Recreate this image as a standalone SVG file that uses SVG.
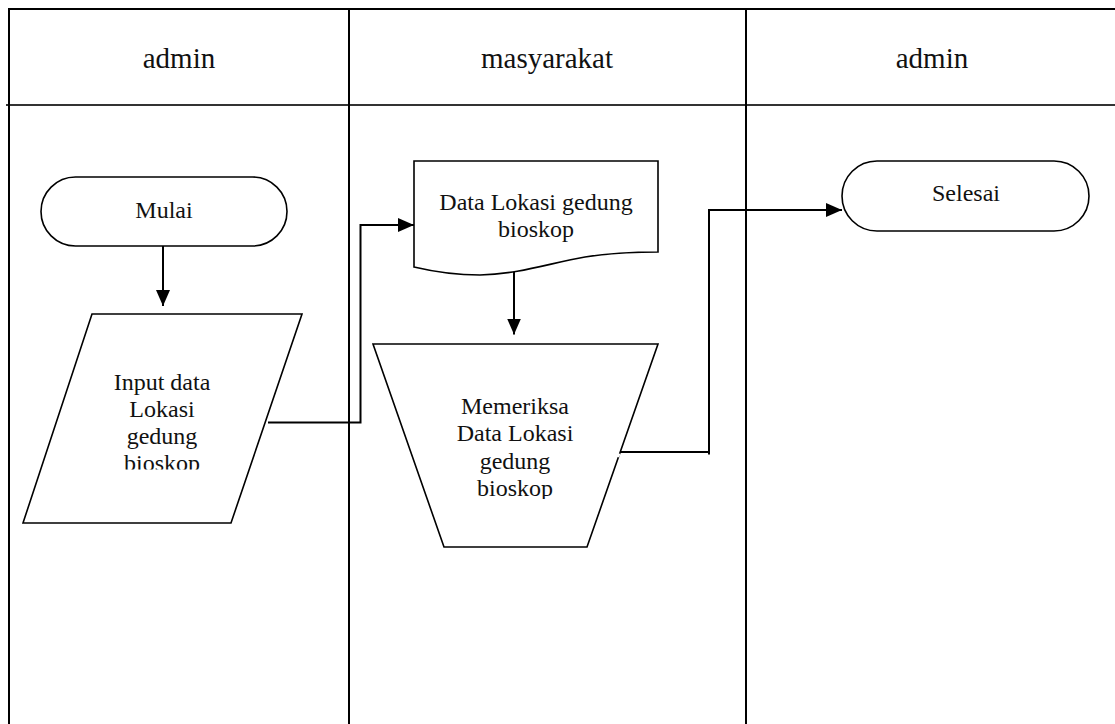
<svg xmlns="http://www.w3.org/2000/svg" width="1115" height="724" viewBox="0 0 1115 724">
  <style>
    .lane { stroke: #000; stroke-width: 2; fill: none; }
    .hdr { stroke: #333; stroke-width: 2; fill: none; }
    .shape { stroke: #000; stroke-width: 1.6; fill: #fff; }
    .conn { stroke: #000; stroke-width: 2; fill: none; }
    .title { font-family: "Liberation Serif", "Times New Roman", serif; font-size: 29px; fill: #111; text-anchor: middle; }
    .label { font-family: "Liberation Serif", "Times New Roman", serif; font-size: 24px; fill: #111; text-anchor: middle; }
  </style>
  <defs>
    <marker id="arrow" markerUnits="userSpaceOnUse" markerWidth="16" markerHeight="14" refX="16" refY="7" orient="auto">
      <path d="M0,0 L16,7 L0,14 Z" fill="#000"/>
    </marker>
    <clipPath id="clipInput"><rect x="20" y="330" width="290" height="139.5"/></clipPath>
    <clipPath id="clipCheck"><rect x="380" y="350" width="280" height="149"/></clipPath>
  </defs>

  <rect width="1115" height="724" fill="#fff"/>

  <!-- swimlane frame -->
  <g id="lanes">
    <line class="lane" x1="8" y1="9" x2="1115" y2="9"/>
    <line class="hdr" x1="6" y1="105" x2="1115" y2="105"/>
    <line class="lane" x1="9" y1="8" x2="9" y2="724"/>
    <line class="lane" x1="349" y1="8" x2="349" y2="724"/>
    <line class="lane" x1="746" y1="8" x2="746" y2="724"/>
    <text class="title" x="179" y="68">admin</text>
    <text class="title" x="547" y="68">masyarakat</text>
    <text class="title" x="932" y="68">admin</text>
  </g>

  <!-- connectors -->
  <g id="connectors">
    <line class="conn" x1="163" y1="246" x2="163" y2="306" marker-end="url(#arrow)"/>
    <path class="conn" d="M268,422.5 H360.5 V225 H414" marker-end="url(#arrow)"/>
    <line class="conn" x1="514" y1="272" x2="514" y2="334.5" marker-end="url(#arrow)"/>
    <path class="conn" d="M619,452 H709 M709,454.5 V210 H842" marker-end="url(#arrow)"/>
  </g>

  <g id="mulai">
    <rect class="shape" x="41" y="177" width="246" height="69" rx="34.5" ry="34.5"/>
    <text class="label" x="164" y="218">Mulai</text>
  </g>

  <g id="input-data">
    <polygon class="shape" points="92,314 302,314 231,523 23,523"/>
    <g clip-path="url(#clipInput)">
      <text class="label" x="162" y="390">Input data</text>
      <text class="label" x="162" y="417">Lokasi</text>
      <text class="label" x="162" y="444">gedung</text>
      <text class="label" x="162" y="471">bioskop</text>
    </g>
  </g>

  <g id="data-lokasi">
    <path class="shape" d="M414,161 H658 V252 C630,252 610,253 585,257 C550,263 520,274 480,275 C455,275 435,272 414,267 Z"/>
    <text class="label" x="536" y="210">Data Lokasi gedung</text>
    <text class="label" x="536" y="237">bioskop</text>
  </g>

  <g id="memeriksa">
    <polygon class="shape" points="373,344 658,344 587,547 444,547"/>
    <!-- small break in the right edge where the outgoing line leaves -->
    <line x1="619" y1="453.5" x2="617.7" y2="457" stroke="#fff" stroke-width="3"/>
    <g clip-path="url(#clipCheck)">
      <text class="label" x="515" y="414">Memeriksa</text>
      <text class="label" x="515" y="441">Data Lokasi</text>
      <text class="label" x="515" y="469">gedung</text>
      <text class="label" x="515" y="496">bioskop</text>
    </g>
  </g>

  <g id="selesai">
    <rect class="shape" x="842" y="161" width="247" height="70" rx="35" ry="35"/>
    <text class="label" x="966" y="201">Selesai</text>
  </g>
</svg>
